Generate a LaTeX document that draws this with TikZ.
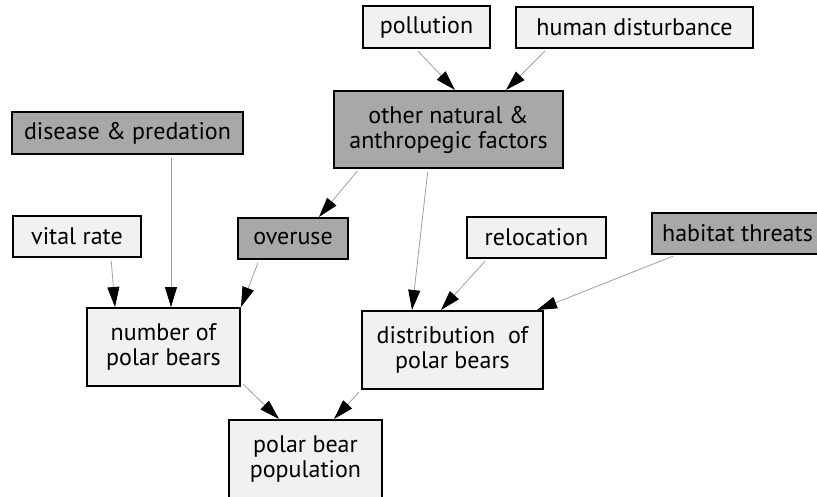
\documentclass[tikz,border=0pt]{standalone}
\usepackage{fontspec}
\setmainfont{PT Sans}
\usepackage{xcolor}
\usetikzlibrary{arrows.meta}

\definecolor{boxlight}{HTML}{F1F1F1}
\definecolor{boxdark}{HTML}{A8A8A8}
\definecolor{linkgray}{HTML}{A0A0A0}

\tikzset{
  lightbox/.style={draw, rectangle, line width=2pt, fill=boxlight, align=center, inner sep=0pt,
    font=\fontsize{24}{25}\selectfont},
  darkbox/.style={lightbox, fill=boxdark},
  arr/.style={draw=linkgray, line width=0.8pt, shorten <=3pt,
    -{Triangle[length=20pt, width=12pt, color=black]}}
}

\begin{document}
\begin{tikzpicture}[x=1pt, y=-1pt]
                  \clip (0,0) rectangle (817,496);
                  \fill[white] (0,0) rectangle (817,496);

                  % Outer factors
                  \node [lightbox, minimum width=127pt, minimum height=42pt] (pollution) at (426.5,27) {pollution};
                  \node [lightbox, minimum width=237pt, minimum height=41pt] (human) at (634.5,27.5) {human disturbance};
                  \node [darkbox, minimum width=229pt, minimum height=77pt] (other) at (448.5,129.5) {other natural \&\\anthropegic factors};
                  \node [darkbox, minimum width=231pt, minimum height=42pt] (disease) at (127.5,133) {disease \& predation};

                  % Middle row
                  \node [lightbox, minimum width=128pt, minimum height=41pt] (vital) at (77,236.5) {vital rate};
                  \node [darkbox, minimum width=110pt, minimum height=41pt] (overuse) at (293,238.5) {overuse};
                  \node [lightbox, minimum width=139pt, minimum height=41pt] (relocation) at (536.5,237.5) {relocation};
                  \node [darkbox, minimum width=171pt, minimum height=41pt] (habitat) at (737.5,233.5) {habitat threats};

                  % Number, distribution and population
                  \node [lightbox, minimum width=153pt, minimum height=78pt] (number) at (163.5,347) {number of\\polar bears};
                  \node [lightbox, minimum width=181pt, minimum height=78pt] (distribution) at (452.5,350) {distribution\ \ of\\polar bears};
                  \node [lightbox, minimum width=153pt, minimum height=78pt] (population) at (305.5,459) {polar bear\\population};

                  % Arrows into other factors
                  \draw [arr] ([xshift=54pt]pollution.south west) -- ([xshift=122pt]other.north west);
                  \draw [arr] ([xshift=32pt]human.south west) -- ([xshift=173pt]other.north west);

                  % Arrows out of other factors
                  \draw [arr] ([xshift=26pt]other.south west) -- ([xshift=82pt]overuse.north west);
                  \draw [arr] ([xshift=95pt]other.south west) -- ([xshift=51pt]distribution.north west);

                  % Arrows into distribution
                  \draw [arr] ([xshift=21pt]relocation.south west) -- ([xshift=80pt]distribution.north west);
                  \draw [arr] ([xshift=25pt]habitat.south west) -- ([xshift=176pt]distribution.north west);

                  % Arrows into number
                  \draw [arr] ([xshift=99pt]vital.south west) -- ([xshift=29pt]number.north west);
                  \draw [arr] ([xshift=160pt]disease.south west) -- ([xshift=85pt]number.north west);
                  \draw [arr] ([xshift=22pt]overuse.south west) -- (number.north east);

                  % Arrows into population
                  \draw [arr] ([yshift=5pt]number.south east) -- ([xshift=51pt]population.north west);
                  \draw [arr] (distribution.south west) -- ([xshift=106pt]population.north west);
              \end{tikzpicture}
\end{document}
